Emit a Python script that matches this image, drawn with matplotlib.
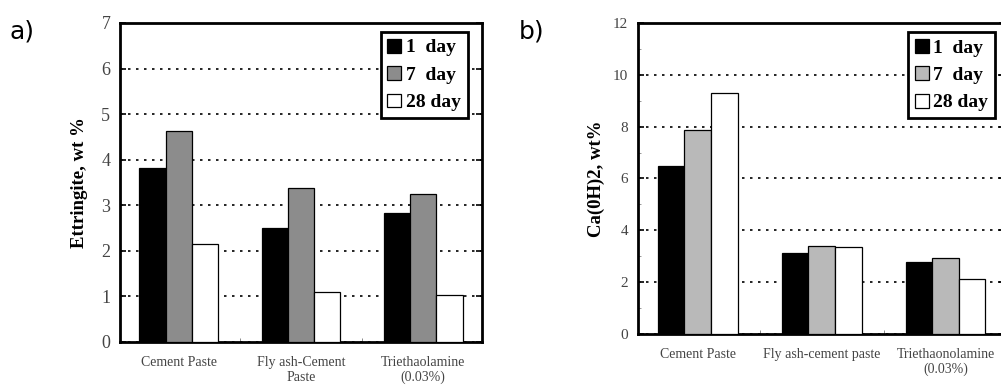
import numpy as np
import matplotlib
matplotlib.use('Agg')
import matplotlib.pyplot as plt
from matplotlib.ticker import MultipleLocator

# 数据
series = ['1  day', '7  day', '28 day']
bar_colors_a = ['#000000', '#8c8c8c', '#ffffff']
bar_colors_b = ['#000000', '#b9b9b9', '#ffffff']

groups_a = ['Cement Paste', 'Fly ash-Cement\nPaste', 'Triethaolamine\n(0.03%)']
ettringite_1d = [3.81, 2.51, 2.84]
ettringite_7d = [4.62, 3.37, 3.25]
ettringite_28d = [2.16, 1.10, 1.03]

groups_b = ['Cement Paste', 'Fly ash-cement paste', 'Triethaonolamine\n(0.03%)']
caoh2_1d = [6.48, 3.12, 2.76]
caoh2_7d = [7.87, 3.40, 2.95]
caoh2_28d = [9.31, 3.36, 2.13]

serif = 'Liberation Serif'
plt.rcParams['font.family'] = [serif, 'DejaVu Serif']

fig = plt.figure(figsize=(10.01, 3.85), dpi=100)
ax_a = fig.add_axes([0.1199, 0.1117, 0.3616, 0.8286])
ax_b = fig.add_axes([0.6374, 0.1325, 0.3666, 0.8078])


def draw_panel(ax, groups, values, colors, ymax, ylabel, tick_size, legend_anchor, minor_y=None):
    x = np.arange(len(groups))
    width = 0.215
    for i, (vals, col, lab) in enumerate(zip(values, colors, series)):
        ax.bar(x + (i - 1) * width, vals, width, color=col, edgecolor='black',
               linewidth=0.9, label=lab, zorder=3)

    ax.set_xlim(-0.48, 2.48)
    ax.set_ylim(0, ymax)
    ax.set_axisbelow(True)

    # 虚线网格
    ax.yaxis.grid(True, color='black', linestyle=(0, (1.5, 3.3)), linewidth=1.2)

    for sp in ax.spines.values():
        sp.set_linewidth(2.0)

    ax.set_xticks(x)
    ax.set_xticklabels(groups, fontsize=10, color='#444444', linespacing=1.2)
    ax.tick_params(axis='x', length=0, pad=10)
    ax.set_xticks([0.5, 1.5], minor=True)
    ax.tick_params(axis='x', which='minor', direction='in', length=3, width=0.6, color='#777777')

    ax.tick_params(axis='y', direction='in', length=4, width=1.2, right=True,
                   labelsize=tick_size, labelcolor='#444444', pad=7)
    if minor_y is not None:
        ax.yaxis.set_minor_locator(MultipleLocator(minor_y))
        ax.tick_params(axis='y', which='minor', direction='in', length=2.5,
                       width=0.6, color='#888888', right=True)

    ax.set_ylabel(ylabel, fontsize=13.5, fontweight='bold')
    ax.yaxis.set_label_coords(-0.089, 0.5)

    leg = ax.legend(loc='upper right', bbox_to_anchor=legend_anchor, borderaxespad=0,
                    prop={'family': serif, 'weight': 'bold', 'size': 14},
                    handlelength=0.72, handleheight=0.72, handletextpad=0.25,
                    labelspacing=0.5, borderpad=0.35, fancybox=False, framealpha=1)
    leg.get_frame().set_edgecolor('black')
    leg.get_frame().set_linewidth(2.0)
    leg.set_zorder(5)


draw_panel(ax_a, groups_a, [ettringite_1d, ettringite_7d, ettringite_28d], bar_colors_a,
           7, 'Ettringite, wt %', 13, (0.961, 0.972))
ax_a.yaxis.set_major_locator(MultipleLocator(1))

draw_panel(ax_b, groups_b, [caoh2_1d, caoh2_7d, caoh2_28d], bar_colors_b,
           12, 'Ca(0H)2, wt%', 11, (0.973, 0.971), minor_y=1)
ax_b.yaxis.set_major_locator(MultipleLocator(2))

# 子图标记
fig.text(0.009, 0.918, 'a)', fontsize=18, family='DejaVu Sans', va='center', ha='left')
fig.text(0.518, 0.918, 'b)', fontsize=18, family='DejaVu Sans', va='center', ha='left')

fig.savefig('out.png', dpi=100)
